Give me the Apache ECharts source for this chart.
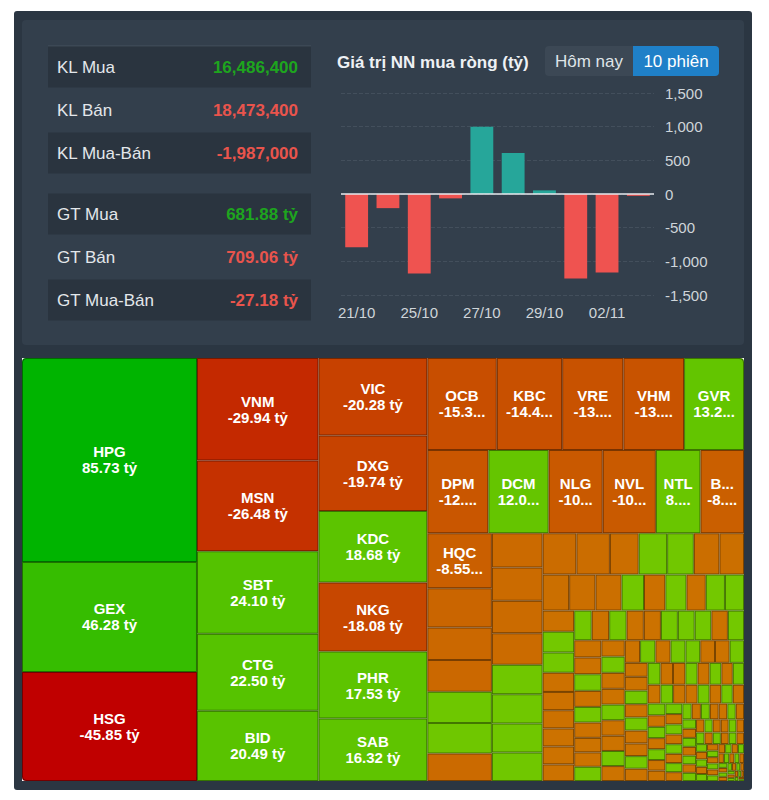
<!DOCTYPE html>
<html>
<head>
<meta charset="utf-8">
<script src="https://cdn.jsdelivr.net/npm/echarts@6/dist/echarts.min.js"></script>
<style>
html,body{margin:0;padding:0;background:#ffffff;}
#chart{width:769px;height:800px;}
</style>
</head>
<body>
<div id="chart"></div>
<script>
// ---- data ----
const statLabels = ['KL Mua', 'KL Bán', 'KL Mua-Bán', 'GT Mua', 'GT Bán', 'GT Mua-Bán'];
const statValues = ['16,486,400', '18,473,400', '-1,987,000', '681.88 tỷ', '709.06 tỷ', '-27.18 tỷ'];
const statSigns = [1, -1, -1, 1, -1, -1];

const chartTitle = 'Giá trị NN mua ròng (tỷ)';
const buttonLabels = ['Hôm nay', '10 phiên'];

const barDates = ['21/10', '22/10', '25/10', '26/10', '27/10', '28/10', '29/10', '01/11', '02/11', '03/11'];
const barValues = [-790, -210, -1180, -65, 1000, 610, 54, -1255, -1165, -27.18];
const yMin = -1500, yMax = 1500, yStep = 500;

// labelled treemap tiles (net value, tỷ)
const tileNames = ['HPG', 'GEX', 'HSG', 'VNM', 'MSN', 'SBT', 'CTG', 'BID', 'VIC', 'DXG', 'KDC', 'NKG', 'PHR', 'SAB',
  'OCB', 'KBC', 'VRE', 'VHM', 'GVR', 'DPM', 'DCM', 'NLG', 'NVL', 'NTL', 'BCM', 'HQC'];
const tileValues = [85.73, 46.28, -45.85, -29.94, -26.48, 24.10, 22.50, 20.49, -20.28, -19.74, 18.68, -18.08, 17.53, 16.32,
  -15.34, -14.45, -13.52, -13.41, 13.24, -12.21, 12.05, -10.82, -10.63, 8.92, -8.71, -8.55];
// small unlabelled tiles (net value, tỷ), estimated from tile areas
const smallValues = [
  -6.10, -5.02, -4.95, 4.82, 4.76, -4.25,
  -4.18, -4.07, -3.95, -3.83, 3.60, 3.57, 3.53, 3.47,
  -3.36, -3.33, -2.86, 2.83, 2.65, -2.55, -2.44,
  -2.30, -2.28, -2.26, 1.94, -1.85, 1.83, -1.67, 1.66, 1.65,
  -1.60, 1.58, 1.53, -1.46, -1.39, -1.38, -1.37, -1.36,
  -1.26, -1.25, 1.25, 1.24, -1.23, -1.22, 1.21, 1.20, 1.19,
  -1.18, 1.15, -1.12, -1.10, 1.08, -1.05, 1.02, -1.00,
  -0.95, -0.94, 0.93, -0.92, 0.91, -0.90, -0.89, 0.88, -0.87, -0.86, 0.85,
  -0.84, 0.83, -0.83, -0.82, 0.81, -0.80, 0.80, -0.79, 0.78, -0.77, -0.76, 0.75,
  -0.73, 0.72, -0.71, -0.70, 0.69, -0.68, 0.67, -0.66, -0.65, 0.64, -0.63, 0.62,
  -0.60, 0.59, -0.58, 0.57, -0.56, -0.55, 0.54, -0.53, 0.52, -0.51, 0.50, -0.49,
  0.48, -0.47, 0.46, -0.45, -0.44, 0.43, -0.42, 0.41, -0.40, 0.39, -0.38, 0.37,
  -0.36, 0.355, -0.35, 0.34, -0.335, -0.33, 0.32, -0.315, 0.31, -0.30, 0.295, -0.29, 0.285, -0.28,
  0.27, -0.265, 0.26, -0.255, -0.25, 0.245, -0.24, 0.235, -0.23, 0.225, -0.22, 0.215, -0.21, 0.205,
  -0.20, 0.195, -0.19, 0.185, -0.18, 0.175, -0.17, 0.165, -0.16, 0.155, -0.15, 0.145, -0.14, 0.135,
  -0.13, 0.125, -0.12, 0.115, -0.11, 0.105, -0.10, 0.095, -0.09, 0.085, -0.08, 0.075,
  -0.07, 0.065, -0.06, 0.055, -0.05, 0.045, -0.04, 0.035, -0.03, 0.025
];

// ---- helpers ----
const FONT = '"Liberation Sans", Arial, Helvetica, sans-serif';
const GREEN_TXT = '#1ea51e', RED_TXT = '#e9544c';
const posMax = Math.max(...tileValues, ...smallValues);
const negMax = -Math.min(...tileValues, ...smallValues);
function mix(a, b, t) { return Math.round(a + (b - a) * t); }
function tileRGB(v) {
  if (v >= 0) {
    const t = Math.min(v / posMax, 1);
    return [mix(117, 0, t), mix(200, 180, t), 0];
  }
  const t = Math.min(-v / negMax, 1);
  return [mix(204, 192, t), mix(117, 0, t), 0];
}
function css(c) { return 'rgb(' + c.join(',') + ')'; }
function darker(c, k) { return 'rgb(' + c.map(x => Math.round(x * k)).join(',') + ')'; }

// outer corners of the treemap are rounded; narrow tiles use a smaller side padding
const cornerRadius = { HPG: [4, 0, 0, 0], HSG: [0, 0, 0, 4], GVR: [0, 4, 0, 0] };
const narrowPad = { NTL: [6.5, 4], BCM: [6.5, 4] };

const treeData = [];
tileNames.forEach((n, i) => {
  const c = tileRGB(tileValues[i]);
  const item = { name: n, value: [Math.abs(tileValues[i]), tileValues[i]],
    itemStyle: { color: css(c), borderColor: darker(c, 0.6) } };
  if (cornerRadius[n]) item.itemStyle.borderRadius = cornerRadius[n];
  if (narrowPad[n]) item.label = { padding: narrowPad[n] };
  treeData.push(item);
});
smallValues.forEach((v) => {
  const c = tileRGB(v);
  treeData.push({ name: '', value: [Math.abs(v), v],
    itemStyle: { color: css(c), borderColor: darker(c, 0.6) }, label: { show: false } });
});

// ---- graphic: panels, table, buttons ----
const graphics = [];
graphics.push({ type: 'rect', shape: { x: 14, y: 11, width: 738, height: 779, r: 3 }, style: { fill: '#2b3642' }, z: -10 });
graphics.push({ type: 'rect', shape: { x: 22, y: 20, width: 722, height: 325, r: 4 }, style: { fill: '#333f4c' }, z: -9 });
graphics.push({ type: 'line', shape: { x1: 48, y1: 46, x2: 311, y2: 46 }, style: { stroke: '#46525f', lineWidth: 1 }, z: -8 });
const rowCenters = [67, 110, 153, 214, 257, 300];
const rowDark = [true, false, true, true, false, true];
statLabels.forEach((lab, i) => {
  if (rowDark[i]) {
    graphics.push({ type: 'rect', shape: { x: 48, y: rowCenters[i] - 20.5, width: 263, height: 41 }, style: { fill: '#2a343f' }, z: -8 });
  }
  graphics.push({ type: 'text', x: 57, y: rowCenters[i], style: { text: lab, fill: '#e3e7eb', font: '17px ' + FONT, textVerticalAlign: 'middle', textAlign: 'left' }, z: 5 });
  graphics.push({ type: 'text', x: 298, y: rowCenters[i], style: { text: statValues[i], fill: statSigns[i] > 0 ? GREEN_TXT : RED_TXT, font: 'bold 17px ' + FONT, textVerticalAlign: 'middle', textAlign: 'right' }, z: 5 });
});
graphics.push({ type: 'text', x: 337, y: 62, style: { text: chartTitle, fill: '#eef1f4', font: 'bold 17px ' + FONT, textVerticalAlign: 'middle', textAlign: 'left' }, z: 5 });
graphics.push({ type: 'rect', shape: { x: 545, y: 46, width: 88, height: 30, r: [4, 0, 0, 4] }, style: { fill: '#3c4855' }, z: -8 });
graphics.push({ type: 'rect', shape: { x: 633, y: 46, width: 86, height: 30, r: [0, 4, 4, 0] }, style: { fill: '#1f80c8' }, z: -8 });
graphics.push({ type: 'text', x: 589, y: 61, style: { text: buttonLabels[0], fill: '#dfe4e8', font: '17px ' + FONT, textVerticalAlign: 'middle', textAlign: 'center' }, z: 5 });
graphics.push({ type: 'text', x: 676, y: 61, style: { text: buttonLabels[1], fill: '#ffffff', font: '17px ' + FONT, textVerticalAlign: 'middle', textAlign: 'center' }, z: 5 });

const chart = echarts.init(document.getElementById('chart'), null, { renderer: 'svg' });
chart.setOption({
  animation: false,
  backgroundColor: 'transparent',
  graphic: { elements: graphics },
  grid: { left: 341, top: 93, width: 313, height: 202, containLabel: false },
  xAxis: {
    type: 'category', data: barDates,
    axisLine: { show: false, onZero: false }, axisTick: { show: false },
    axisLabel: { interval: 1, color: '#cfd5da', fontSize: 15, fontFamily: FONT, margin: 10 }
  },
  yAxis: {
    type: 'value', position: 'right', min: yMin, max: yMax, interval: yStep,
    axisLine: { show: false }, axisTick: { show: false },
    axisLabel: { color: '#cfd5da', fontSize: 15, fontFamily: FONT, margin: 11 },
    splitLine: { lineStyle: { color: '#434f5c', type: 'dashed', width: 1 } }
  },
  series: [
    {
      type: 'bar', data: barValues, barCategoryGap: '27%',
      itemStyle: { color: p => (p.value >= 0 ? '#26a69a' : '#ef5350') },
      markLine: {
        silent: true, symbol: 'none', label: { show: false },
        lineStyle: { color: '#e6e9ec', type: 'solid', width: 1.5 },
        data: [{ yAxis: 0 }]
      }
    },
    {
      type: 'treemap', left: 22, top: 358, width: 722, height: 423,
      roam: false, nodeClick: false, breadcrumb: { show: false },
      data: treeData,
      label: {
        show: true, position: 'inside', color: '#ffffff', fontSize: 15, fontWeight: 'bold',
        fontFamily: FONT, lineHeight: 16, padding: 6.5, overflow: 'truncate',
        formatter: p => p.name + '\n' + p.value[1].toFixed(2) + ' tỷ'
      },
      upperLabel: { show: false },
      itemStyle: { borderWidth: 1, gapWidth: 0 },
      levels: [{ itemStyle: { borderWidth: 0, gapWidth: 0 } }]
    }
  ]
});
</script>
</body>
</html>
